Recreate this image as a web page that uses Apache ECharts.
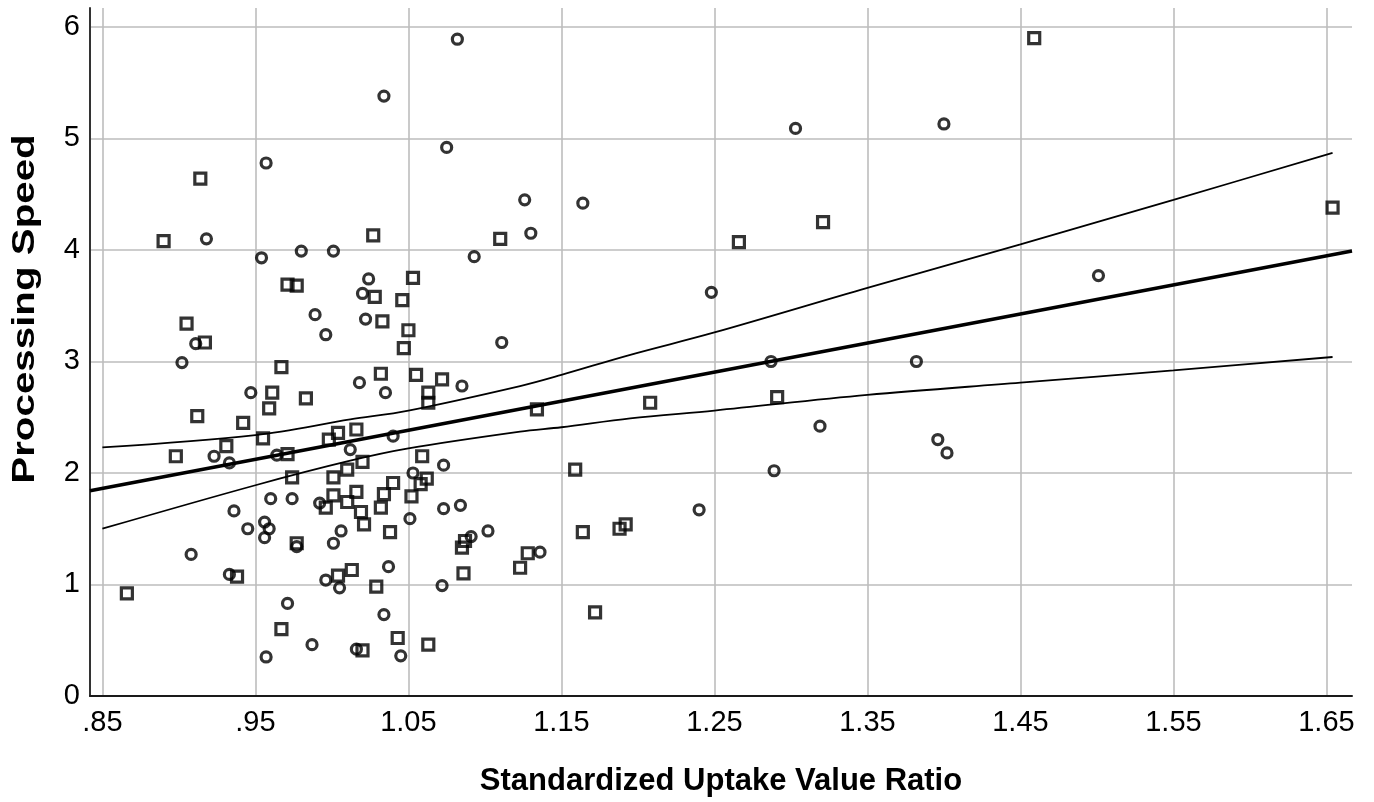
<!DOCTYPE html>
<html>
<head>
<meta charset="utf-8">
<script src="https://cdn.jsdelivr.net/npm/echarts@6/dist/echarts.min.js"></script>
<style>
  html, body { margin: 0; padding: 0; background: #ffffff; }
  #chart { width: 1374px; height: 802px; }
</style>
</head>
<body>
<div id="chart"></div>
<script>
// Axis ticks and their printed labels
const xTicks = [0.85, 0.95, 1.05, 1.15, 1.25, 1.35, 1.45, 1.55, 1.65];
const xTickLabels = ['.85', '.95', '1.05', '1.15', '1.25', '1.35', '1.45', '1.55', '1.65'];
const yTicks = [0, 1, 2, 3, 4, 5, 6];
const yTickLabels = ['0', '1', '2', '3', '4', '5', '6'];

// Group drawn with circles: [SUVR, processing speed]
const circleGroup = [
  [0.957, 4.78], [0.918, 4.10], [0.954, 3.93], [0.980, 3.99], [1.001, 3.99],
  [0.989, 3.42], [0.996, 3.24], [0.911, 3.16], [1.082, 5.89], [1.034, 5.38],
  [1.075, 4.92], [1.126, 4.45], [1.164, 4.42], [1.130, 4.15], [1.093, 3.94],
  [1.024, 3.74], [1.020, 3.61], [1.022, 3.38], [1.111, 3.17], [0.902, 2.99],
  [1.018, 2.81], [0.947, 2.72], [0.923, 2.15], [0.933, 2.09], [0.964, 2.16],
  [1.012, 2.21], [0.960, 1.77], [0.974, 1.77], [0.992, 1.73], [0.936, 1.66],
  [0.945, 1.50], [0.956, 1.56], [0.959, 1.50], [0.956, 1.42], [0.977, 1.34],
  [1.006, 1.48], [1.001, 1.37], [0.908, 1.27], [0.933, 1.09], [0.996, 1.04],
  [1.005, 0.97], [0.971, 0.83], [0.987, 0.46], [0.957, 0.35], [1.016, 0.42],
  [1.035, 2.72], [1.085, 2.78], [1.040, 2.33], [1.073, 2.07], [1.053, 2.00],
  [1.073, 1.68], [1.084, 1.71], [1.051, 1.59], [1.102, 1.48], [1.091, 1.43],
  [1.136, 1.29], [1.037, 1.16], [1.072, 0.99], [1.034, 0.73], [1.045, 0.36],
  [1.303, 5.09], [1.248, 3.62], [1.287, 3.00], [1.319, 2.42], [1.382, 3.00],
  [1.396, 2.30], [1.402, 2.18], [1.289, 2.02], [1.240, 1.67], [1.400, 5.13],
  [1.501, 3.77]
];

// Group drawn with squares: [SUVR, processing speed]
const squareGroup = [
  [0.914, 4.64], [0.890, 4.08], [0.971, 3.69], [0.977, 3.68], [0.905, 3.34],
  [0.917, 3.17], [1.027, 4.13], [1.110, 4.10], [1.028, 3.58], [1.046, 3.55],
  [1.053, 3.75], [1.033, 3.36], [1.050, 3.28], [1.047, 3.12], [0.967, 2.95],
  [0.961, 2.72], [0.983, 2.67], [0.959, 2.58], [0.912, 2.51], [0.942, 2.45],
  [0.955, 2.31], [0.931, 2.24], [0.898, 2.15], [0.971, 2.17], [0.974, 1.96],
  [0.998, 2.30], [1.004, 2.36], [1.016, 2.39], [1.010, 2.03], [1.001, 1.96],
  [0.996, 1.69], [1.001, 1.80], [1.010, 1.74], [1.016, 1.83], [0.977, 1.37],
  [0.938, 1.07], [0.866, 0.92], [1.004, 1.08], [1.013, 1.13], [0.967, 0.60],
  [1.020, 0.41], [1.032, 2.89], [1.055, 2.88], [1.072, 2.84], [1.063, 2.72],
  [1.063, 2.63], [1.134, 2.57], [1.020, 2.10], [1.059, 2.15], [1.062, 1.95],
  [1.058, 1.90], [1.040, 1.91], [1.034, 1.81], [1.052, 1.79], [1.032, 1.69],
  [1.019, 1.65], [1.021, 1.54], [1.038, 1.47], [1.087, 1.39], [1.085, 1.33],
  [1.128, 1.28], [1.123, 1.15], [1.159, 2.03], [1.164, 1.47], [1.188, 1.50],
  [1.192, 1.54], [1.172, 0.75], [1.029, 0.98], [1.086, 1.10], [1.043, 0.52],
  [1.063, 0.46], [1.266, 4.07], [1.321, 4.25], [1.291, 2.68], [1.208, 2.63],
  [1.459, 5.90], [1.654, 4.38]
];

// Linear fit across the full axis range
const fitLine = [[0.8419, 1.84], [1.6667, 3.99]];

// 95% confidence band of the mean
const ciUpper = [
  [0.85, 2.23], [0.95, 2.34], [1.012, 2.48], [1.05, 2.56], [1.123, 2.78],
  [1.15, 2.88], [1.195, 3.06], [1.25, 3.26], [1.35, 3.66], [1.45, 4.05],
  [1.55, 4.45], [1.654, 4.87]
];
const ciLower = [
  [0.85, 1.50], [0.95, 1.89], [1.012, 2.11], [1.05, 2.22], [1.123, 2.37],
  [1.15, 2.41], [1.195, 2.49], [1.25, 2.56], [1.35, 2.70], [1.45, 2.81],
  [1.55, 2.92], [1.654, 3.04]
];

const FONT = '"Liberation Sans", Arial, Helvetica, sans-serif';

const chart = echarts.init(document.getElementById('chart'), null, { renderer: 'canvas' });

const markerStyle = {
  color: 'rgba(0,0,0,0)',
  borderColor: '#000000',
  borderWidth: 3.2
};

chart.setOption({
  animation: false,
  backgroundColor: '#ffffff',
  grid: { left: 90, right: 22, top: 8, bottom: 106, containLabel: false },
  xAxis: {
    type: 'value',
    min: 0.8419,
    max: 1.6667,
    axisLine: { show: true, onZero: false, lineStyle: { color: '#1a1a1a', width: 2 } },
    axisTick: { show: false, customValues: xTicks },
    axisLabel: {
      customValues: xTicks,
      margin: 12,
      color: '#000000',
      fontFamily: FONT,
      fontSize: 29,
      formatter: function (v) {
        const i = xTicks.findIndex(t => Math.abs(t - v) < 1e-6);
        return i >= 0 ? xTickLabels[i] : '';
      }
    },
    splitLine: { show: true, lineStyle: { color: '#bdbdbd', width: 1.6 } }
  },
  yAxis: {
    type: 'value',
    min: 0,
    max: 6.17,
    axisLine: { show: true, onZero: false, lineStyle: { color: '#333333', width: 2 } },
    axisTick: { show: false, customValues: yTicks },
    axisLabel: {
      customValues: yTicks,
      margin: 10,
      color: '#000000',
      fontFamily: FONT,
      fontSize: 29,
      formatter: function (v) {
        const i = yTicks.findIndex(t => Math.abs(t - v) < 1e-6);
        return i >= 0 ? yTickLabels[i] : '';
      }
    },
    splitLine: { show: true, lineStyle: { color: '#bdbdbd', width: 1.6 } }
  },
  graphic: [
    {
      type: 'text',
      x: 721,
      y: 781,
      style: {
        text: 'Standardized Uptake Value Ratio',
        font: 'bold 31px ' + FONT,
        fill: '#000000',
        align: 'center',
        verticalAlign: 'middle'
      }
    },
    {
      type: 'text',
      x: 25,
      y: 309,
      rotation: Math.PI / 2,
      scaleX: 1.3,
      style: {
        text: 'Processing Speed',
        font: 'bold 31px ' + FONT,
        fill: '#000000',
        align: 'center',
        verticalAlign: 'middle'
      }
    }
  ],
  series: [
    {
      type: 'scatter',
      data: circleGroup,
      symbol: 'circle',
      symbolSize: 10,
      itemStyle: markerStyle,
      z: 3
    },
    {
      type: 'scatter',
      data: squareGroup,
      symbol: 'rect',
      symbolSize: 11,
      itemStyle: markerStyle,
      z: 3
    },
    {
      type: 'line',
      data: ciUpper,
      smooth: 0.35,
      symbol: 'none',
      lineStyle: { color: '#000000', width: 1.8 },
      z: 4
    },
    {
      type: 'line',
      data: ciLower,
      smooth: 0.35,
      symbol: 'none',
      lineStyle: { color: '#000000', width: 1.8 },
      z: 4
    },
    {
      type: 'line',
      data: fitLine,
      symbol: 'none',
      lineStyle: { color: '#000000', width: 3.6 },
      z: 5
    }
  ]
});
</script>
</body>
</html>
